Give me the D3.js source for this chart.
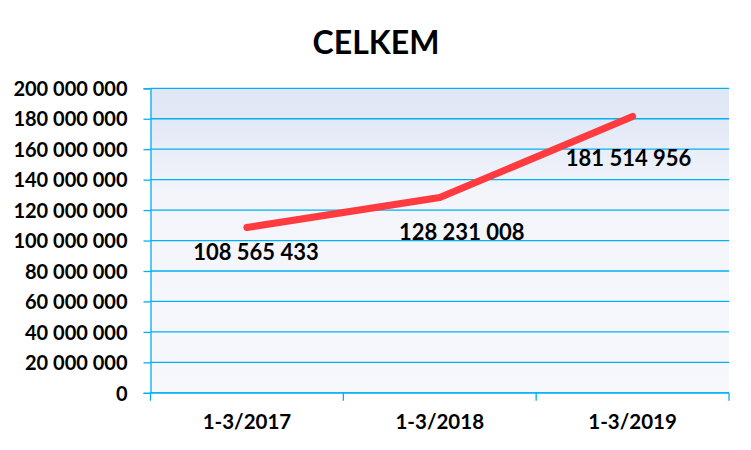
<!DOCTYPE html>
<html><head><meta charset="utf-8">
<script src="https://cdn.jsdelivr.net/npm/d3@7"></script>
<style>body{margin:0;background:#fff}svg{display:block}text{font-family:Lato,"Liberation Sans",Arial,sans-serif;font-weight:bold;fill:#000}</style>
</head><body>
<script>
const title = "CELKEM";
const categories = ["1-3/2017", "1-3/2018", "1-3/2019"];
const values = [108565433, 128231008, 181514956];
const yTicks = [0, 20000000, 40000000, 60000000, 80000000, 100000000, 120000000, 140000000, 160000000, 180000000, 200000000];

const W = 751, H = 450;
const m = {left: 150.5, right: 22, top: 88.3, bottom: 57.2};
const svg = d3.select("body").append("svg").attr("width", W).attr("height", H);
const x = d3.scaleBand().domain(categories).range([m.left, W - m.right]);
const y = d3.scaleLinear().domain([0, 200000000]).range([H - m.bottom, m.top]);
const fmt = v => d3.format(",")(v).replace(/,/g, " ");

const defs = svg.append("defs");
const g = defs.append("linearGradient").attr("id", "bg").attr("x1", 0).attr("y1", 0).attr("x2", 0).attr("y2", 1);
g.append("stop").attr("offset", "0%").attr("stop-color", "#dfe6f5");
g.append("stop").attr("offset", "12%").attr("stop-color", "#e3e9f6");
g.append("stop").attr("offset", "35%").attr("stop-color", "#f3f5fb");
g.append("stop").attr("offset", "100%").attr("stop-color", "#f7f8fc");

svg.append("rect").attr("x", m.left).attr("y", m.top)
  .attr("width", W - m.right - m.left).attr("height", H - m.bottom - m.top).attr("fill", "url(#bg)");

const blue = "#00b0f0";
const yAxis = svg.append("g").attr("transform", `translate(${m.left},0)`)
  .call(d3.axisLeft(y).tickValues(yTicks).tickSize(7).tickPadding(16).tickFormat(fmt));
yAxis.select(".domain").attr("stroke", blue).attr("stroke-width", 1.3);
yAxis.selectAll(".tick line").attr("stroke", blue).attr("stroke-width", 1.3);
yAxis.selectAll(".tick text").style("font-size", "20px").attr("dy", "0.36em");
svg.append("g").selectAll("line").data(yTicks).join("line")
  .attr("x1", m.left).attr("x2", W - m.right).attr("y1", d => y(d)).attr("y2", d => y(d))
  .attr("stroke", blue).attr("stroke-width", 1.3);

const xAxis = svg.append("g").attr("transform", `translate(0,${y(0)})`)
  .call(d3.axisBottom(x).tickSize(0).tickPadding(22));
xAxis.select(".domain").remove();
xAxis.selectAll(".tick text").style("font-size", "20.5px");
const bounds = categories.map(c => x(c)).concat([x(categories[categories.length - 1]) + x.bandwidth()]);
svg.append("g").selectAll("line").data(bounds).join("line")
  .attr("x1", d => d).attr("x2", d => d).attr("y1", y(0)).attr("y2", y(0) + 8)
  .attr("stroke", blue).attr("stroke-width", 1.3);
svg.append("line").attr("x1", m.left).attr("x2", W - m.right).attr("y1", y(0)).attr("y2", y(0))
  .attr("stroke", blue).attr("stroke-width", 1.3);

const cx = c => x(c) + x.bandwidth() / 2;
const pts = categories.map((c, i) => [cx(c), y(values[i])]);
svg.append("path").attr("d", d3.line()(pts)).attr("fill", "none")
  .attr("stroke", "#ff3b3f").attr("stroke-width", 7).attr("stroke-linecap", "round").attr("stroke-linejoin", "round");

const labelOffsets = [[9, 25], [22, 35], [-4, 42]];
svg.append("g").selectAll("text").data(values).join("text")
  .attr("x", (d, i) => pts[i][0] + labelOffsets[i][0])
  .attr("y", (d, i) => pts[i][1] + labelOffsets[i][1])
  .attr("text-anchor", "middle").attr("dy", "0.36em").style("font-size", "22px")
  .text(fmt);

svg.append("text").attr("x", 376).attr("y", 42).attr("dy", "0.36em").attr("text-anchor", "middle")
  .style("font-size", "32px").text(title);
</script>
</body></html>
